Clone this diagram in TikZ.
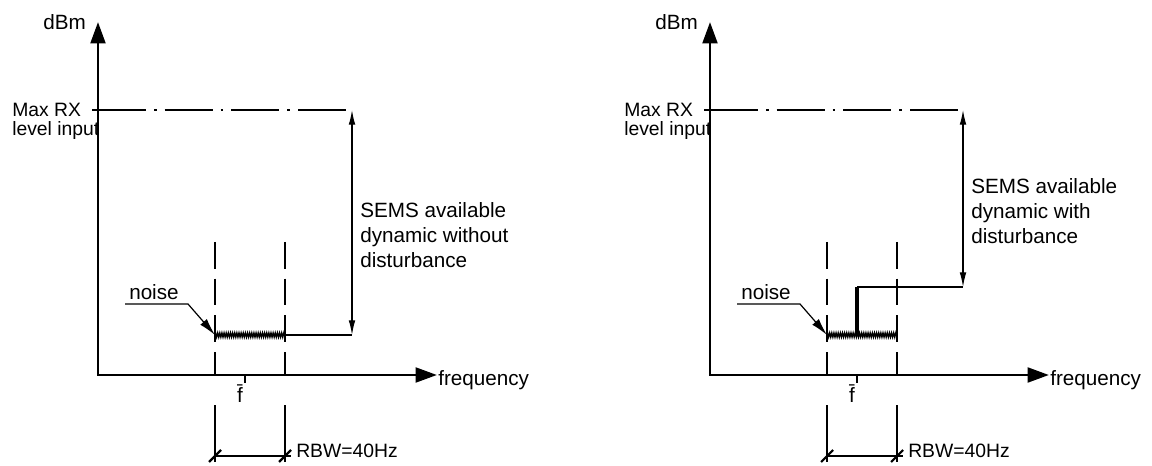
\documentclass[tikz,border=0pt]{standalone}
\usepackage{fontspec}
\setmainfont{Liberation Sans}
\usetikzlibrary{calc,arrows.meta,decorations.pathmorphing}

\tikzset{
  axisline/.style={line width=2.2pt,{Triangle[length=16pt,width=11pt]}-{Triangle[length=16pt,width=11pt]}},
  thinline/.style={line width=0.9pt},
  dimarrow/.style={line width=0.9pt,{Latex[length=11pt,width=5pt]}-{Latex[length=11pt,width=5pt]}},
  bandline/.style={line width=0.9pt,dash pattern=on 20pt off 7.5pt},
  maxline/.style={line width=0.9pt,dash pattern=on 36pt off 6pt on 2pt off 6pt},
  noiseline/.style={line width=1pt,decorate,decoration={zigzag,amplitude=1.6pt,segment length=1.6pt}},
  lbl/.style={inner sep=0pt,font=\fontsize{15.5}{18.75}\selectfont},
}

\begin{document}
\begin{tikzpicture}[x=0.75pt,y=-0.75pt]
    \useasboundingbox (0,0) rectangle (1152,466);

    \foreach \p/\ox in {L/0,R/612}{% the two panels share axes, band and noise
      \begin{scope}[xshift=\ox*0.75pt]
        \coordinate (orig\p)  at (98,375);
        \coordinate (ytip\p)  at (98,22);
        \coordinate (xtip\p)  at (437,375);
        \coordinate (maxA\p)  at (92,110);
        \coordinate (maxB\p)  at (98,110);
        \coordinate (bandA\p) at (215,335);
        \coordinate (bandB\p) at (285,335);
        \coordinate (fbar\p)  at (245,375);

        \draw[axisline] (ytip\p) -- (orig\p) -- (xtip\p);
        \node[lbl,anchor=base west] (dbm\p) at (43,30) {dBm};
        \node[lbl,anchor=base west] (freq\p) at (438,385) {frequency};

        % max RX level
        \node[lbl,anchor=north west,align=left,font=\fontsize{14.5}{14.5}\selectfont]
          (maxrx\p) at (12,103) {Max RX\\level input};
        \draw[line width=1.5pt] (maxA\p) -- (maxB\p);

        % resolution band
        \foreach \b in {A,B}{
          \draw[bandline] ($(band\b\p)+(0,-93)$) -- ($(band\b\p)+(0,40)$);
          \draw[thinline] ($(band\b\p)+(0,70)$) -- ($(band\b\p)+(0,127)$);
          \draw[line width=1.6pt] ($(band\b\p)+(-6,127)$) -- ($(band\b\p)+(6,115)$);
        }
        \draw[thinline] ($(bandA\p)+(0,121)$) coordinate (dimA\p)
          -- ($(bandB\p)+(6,121)$) coordinate (dimB\p);
        \node[lbl,anchor=base west,font=\fontsize{14.5}{16}\selectfont]
          (rbw\p) at ($(dimB\p)+(5,1)$) {RBW=40Hz};

        % noise floor
        \draw[noiseline] (bandA\p) -- (bandB\p);
        \node[lbl,anchor=base west] (noise\p) at (129,300) {noise};
        \coordinate (leadA\p) at (125,304);
        \coordinate (leadB\p) at (188,304);
        \draw[thinline,-{Latex[length=13pt,width=6.5pt]}] (leadA\p) -- (leadB\p) -- (bandA\p);

        % centre frequency
        \draw[line width=1.6pt] (fbar\p) -- ++(0,8);
        \node[lbl,anchor=base] (f\p) at (240,402) {\={f}};
      \end{scope}
    }

    % left panel: no disturbance
    \coordinate (dynTopL) at (352,110);
    \coordinate (dynBotL) at (352,335);
    \draw[maxline] (maxBL) -- (dynTopL);
    \draw[dimarrow] (dynTopL) -- (dynBotL);
    \draw[thinline] (bandBL) -- (dynBotL);
    \node[lbl,anchor=north west,align=left] (semsL) at (360,202)
      {SEMS available\\dynamic without\\disturbance};

    % right panel: disturbance spike
    \coordinate (spikeA) at (857,335);
    \coordinate (spikeB) at (857,287);
    \coordinate (dynTopR) at (963,110);
    \coordinate (dynBotR) at (963,287);
    \draw[line width=3.5pt] (spikeA) -- (spikeB);
    \draw[maxline] (maxBR) -- (dynTopR);
    \draw[dimarrow] (dynTopR) -- (dynBotR);
    \draw[thinline] (spikeB) -- (dynBotR);
    \node[lbl,anchor=north west,align=left] (semsR) at (971,178)
      {SEMS available\\dynamic with\\disturbance};
\end{tikzpicture}
\end{document}
